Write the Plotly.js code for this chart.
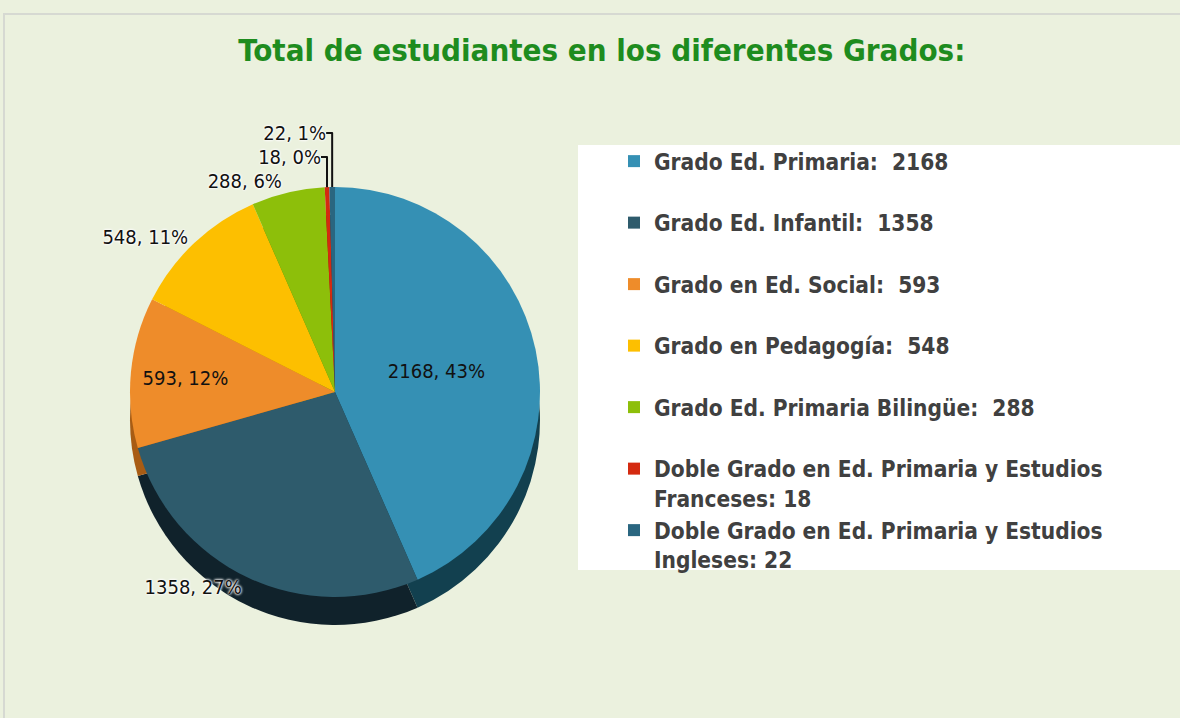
<!DOCTYPE html>
<html><head><meta charset="utf-8">
<script src="https://cdn.plot.ly/plotly-3.0.1.min.js"></script>
<style>
html,body{margin:0;padding:0;background:#ebf1de;width:1180px;height:718px;overflow:hidden;}
#chart{position:absolute;left:0;top:0;width:1180px;height:718px;}
#frame{position:absolute;left:3px;top:13px;width:1177px;height:705px;border-top:2px solid #d6d9d2;border-left:2px solid #d6d9d2;box-sizing:border-box;pointer-events:none;}
</style></head><body>
<div id="chart"></div>
<div id="frame"></div>
<script>
const categories = [
  'Grado Ed. Primaria:',
  'Grado Ed. Infantil:',
  'Grado en Ed. Social:',
  'Grado en Pedagogía:',
  'Grado Ed. Primaria Bilingüe:',
  'Doble Grado en Ed. Primaria y Estudios<br>Franceses:',
  'Doble Grado en Ed. Primaria y Estudios<br>Ingleses:'
];
const values = [2168, 1358, 593, 548, 288, 18, 22];
const percentLabels = [43, 27, 12, 11, 6, 0, 1];
const sliceColors = ['#3590b4', '#2e5b6c', '#ee8c2a', '#fdbf00', '#8dbf0a', '#d42a10', '#2a6680'];
const sideColors  = ['#12404f', '#10222b', '#a85c14', '#b58800', '#5f8405', '#8e1a08', '#163c4d'];
const textPositions = ['inside', 'outside', 'inside', 'outside', 'outside', 'outside', 'outside'];

const FONT = '"Liberation Sans Narrow", "DejaVu Sans Condensed", "Arial Narrow", sans-serif';
const W = 1180, H = 718;

const legendLabels = categories.map((c, i) => {
  const single = c.indexOf('<br>') < 0;
  return c + (single ? '  ' : ' ') + values[i] + (single ? '<br> ' : '');
});

// pie geometry (pixels -> paper fractions)
const cx = 335, cy = 392, r = 205, depth = 28;
const dom = (yc) => ({x: [(cx - r) / W, (cx + r) / W], y: [1 - (yc + r) / H, 1 - (yc - r) / H]});

const halo = '0px 0px 3px #ffffff, 0px 0px 3px #ffffff, 0px 0px 2px #ffffff';

const sideTrace = {
  type: 'pie', values: values, labels: legendLabels, sort: false, direction: 'clockwise', rotation: 0,
  marker: {colors: sideColors, line: {width: 0}},
  textinfo: 'none', hoverinfo: 'skip', showlegend: false,
  domain: dom(cy + depth)
};

const topTrace = {
  type: 'pie', values: values, labels: legendLabels, sort: false, direction: 'clockwise', rotation: 0,
  customdata: percentLabels,
  marker: {colors: sliceColors, line: {width: 0}},
  texttemplate: '%{value}, %{customdata}%',
  textposition: textPositions,
  insidetextorientation: 'horizontal',
  textfont: {family: FONT, size: 20, color: '#111111'},
  insidetextfont: {family: FONT, size: 20, color: '#111111'},
  outsidetextfont: {family: FONT, size: 20, color: '#111111', shadow: halo},
  hovertemplate: '%{label}<extra></extra>',
  domain: dom(cy)
};

const layout = {
  width: W, height: H,
  paper_bgcolor: '#ebf1de', plot_bgcolor: '#ebf1de',
  margin: {l: 0, r: 0, t: 0, b: 0},
  title: {text: 'Total de estudiantes en los diferentes Grados:', x: 0.51, xanchor: 'center', y: 1 - 50 / H, yanchor: 'middle',
          font: {family: FONT, size: 31, color: '#1e8c1e', weight: 'bold'}},
  showlegend: true,
  legend: {x: 614 / W, xanchor: 'left', y: 1 - 140 / H, yanchor: 'top', valign: 'top',
           bgcolor: 'rgba(0,0,0,0)', borderwidth: 0,
           font: {family: FONT, size: 22.5, color: '#404040', weight: 'bold'}},
  shapes: [{type: 'rect', xref: 'paper', yref: 'paper', layer: 'above',
            x0: 578 / W, x1: 1, y0: 1 - 570 / H, y1: 1 - 145 / H,
            fillcolor: '#ffffff', line: {width: 0}}]
};

Plotly.newPlot('chart', [sideTrace, topTrace], layout, {displayModeBar: false, staticPlot: true});
</script>
</body></html>
